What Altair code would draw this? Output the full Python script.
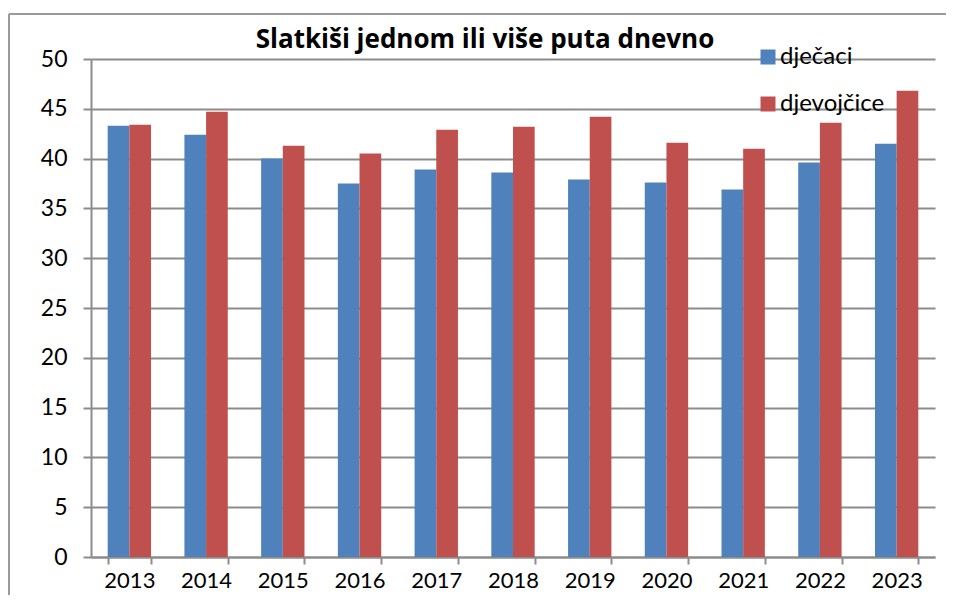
import altair as alt
import pandas as pd

years = ["2013", "2014", "2015", "2016", "2017", "2018", "2019", "2020", "2021", "2022", "2023"]
djecaci = [43.3, 42.4, 40.0, 37.5, 38.9, 38.6, 37.9, 37.6, 36.9, 39.6, 41.5]
djevojcice = [43.4, 44.7, 41.3, 40.5, 42.9, 43.2, 44.2, 41.6, 41.0, 43.6, 46.8]
series = ["dječaci", "djevojčice"]
colors = ["#4F81BD", "#C0504D"]
title_text = "Slatkiši jednom ili više puta dnevno"

rows = []
for i, y in enumerate(years):
    rows.append({"year": y, "group": series[0], "value": djecaci[i]})
    rows.append({"year": y, "group": series[1], "value": djevojcice[i]})
df = pd.DataFrame(rows)

FONT = "Lato"
W, H = 844, 498

bars = alt.Chart(df).mark_bar().encode(
    x=alt.X("year:N", sort=years, title=None,
            scale=alt.Scale(paddingInner=0.435, paddingOuter=0.2175),
            axis=alt.Axis(labelAngle=0, tickBand="extent", tickSize=7, labelPadding=6,
                          labelFontSize=22, labelFont=FONT, labelColor="#000000",
                          domainColor="#8c8c8c", domainWidth=2, tickColor="#8c8c8c",
                          tickWidth=2, grid=False)),
    xOffset=alt.XOffset("group:N", sort=series),
    y=alt.Y("value:Q", title=None,
            scale=alt.Scale(domain=[0, 50], nice=False),
            axis=alt.Axis(values=list(range(0, 51, 5)), tickSize=8, labelPadding=16,
                          labelFontSize=23, labelFont=FONT, labelColor="#000000",
                          domainColor="#8c8c8c", domainWidth=2, tickColor="#8c8c8c",
                          tickWidth=2, gridColor="#8c8c8c", gridWidth=2)),
    color=alt.Color("group:N", sort=series,
                    scale=alt.Scale(domain=series, range=colors),
                    legend=alt.Legend(title=None, orient="none", legendX=665, legendY=-14,
                                      symbolType="square", symbolSize=225,
                                      symbolStrokeWidth=0, labelFontSize=24,
                                      labelFont=FONT, labelColor="#000000",
                                      rowPadding=23, labelOffset=0)),
)

border_df = pd.DataFrame({"k": [1]})
top_line = alt.Chart(border_df).mark_rule(color="#9a9a9a", strokeWidth=2).encode(
    x=alt.value(-82), x2=alt.value(W + 30), y=alt.value(-45))
left_line = alt.Chart(border_df).mark_rule(color="#9a9a9a", strokeWidth=2).encode(
    x=alt.value(-82), x2=alt.value(-82), y=alt.value(-45), y2=alt.value(H + 50))

title_mark = alt.Chart(pd.DataFrame({"t": [title_text]})).mark_text(
    font="Open Sans", fontSize=26, fontWeight="bold", color="#000000",
    align="center", baseline="alphabetic",
).encode(text="t:N", x=alt.value(W / 2 - 28), y=alt.value(-11))

chart = alt.layer(bars, top_line, left_line, title_mark).properties(
    width=W, height=H,
    padding={"left": 83, "top": 51, "right": 11, "bottom": 38},
    autosize=alt.AutoSizeParams(type="none"),
).configure_view(stroke=None)

chart.save("out.html", embed_options={"renderer": "svg", "actions": False})
